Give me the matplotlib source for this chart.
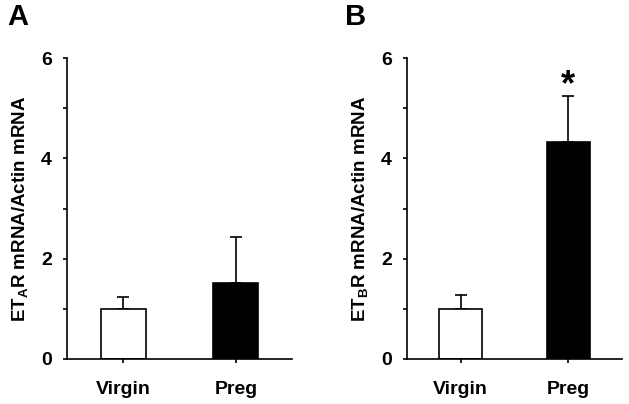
import matplotlib

matplotlib.use("Agg")
import matplotlib.pyplot as plt
from matplotlib.ticker import MultipleLocator

plt.rcParams.update({
    "font.family": "Liberation Sans", "font.weight": "bold", "font.size": 14,
    "axes.labelweight": "bold",
    "mathtext.fontset": "custom", "mathtext.rm": "Liberation Sans:bold",
    "mathtext.it": "Liberation Sans:bold", "mathtext.bf": "Liberation Sans:bold",
    "axes.linewidth": 1.2,
})

groups = ["Virgin", "Preg"]
eta_mean = [1.0, 1.52]
eta_err = [0.24, 0.92]
etb_mean = [1.0, 4.33]
etb_err = [0.27, 0.92]
colors = ["white", "black"]

panels = [
    ("A", eta_mean, eta_err, r"ET$\mathrm{_A}$R mRNA/Actin mRNA", [0.1065, 0.1114, 0.358, 0.745], 0.011, False),
    ("B", etb_mean, etb_err, r"ET$\mathrm{_B}$R mRNA/Actin mRNA", [0.647, 0.1114, 0.342, 0.745], 0.548, True),
]

fig = plt.figure(figsize=(6.29, 4.04), dpi=100)
for letter, mean, err, ylab, rect, lx, star in panels:
    ax = fig.add_axes(rect)
    x = range(len(groups))
    ax.bar(x, mean, width=0.4, color=colors, edgecolor="black", linewidth=1.2, zorder=2)
    ax.errorbar(x, mean, yerr=[[0, 0], err], fmt="none", ecolor="black",
                elinewidth=1.2, capsize=4, capthick=1.2, zorder=1)
    if star:
        ax.text(1, mean[1] + err[1] + 0.2, "*", ha="center", va="center", fontsize=26)
    ax.set_xlim(-0.5, 1.5)
    ax.set_ylim(0, 6)
    ax.yaxis.set_major_locator(MultipleLocator(2))
    ax.yaxis.set_minor_locator(MultipleLocator(1))
    ax.set_xticks(list(x), groups)
    ax.tick_params(direction="out", length=3, width=1.2)
    ax.tick_params(axis="x", pad=13)
    ax.tick_params(axis="y", pad=8)
    ax.tick_params(axis="y", which="minor", length=3, width=1.2)
    for s in ("top", "right"):
        ax.spines[s].set_visible(False)
    ax.set_ylabel(ylab, fontsize=13.5, labelpad=8)
    fig.text(lx, 0.958, letter, fontsize=21, ha="left", va="center")

fig.savefig("out.png", dpi=100)
